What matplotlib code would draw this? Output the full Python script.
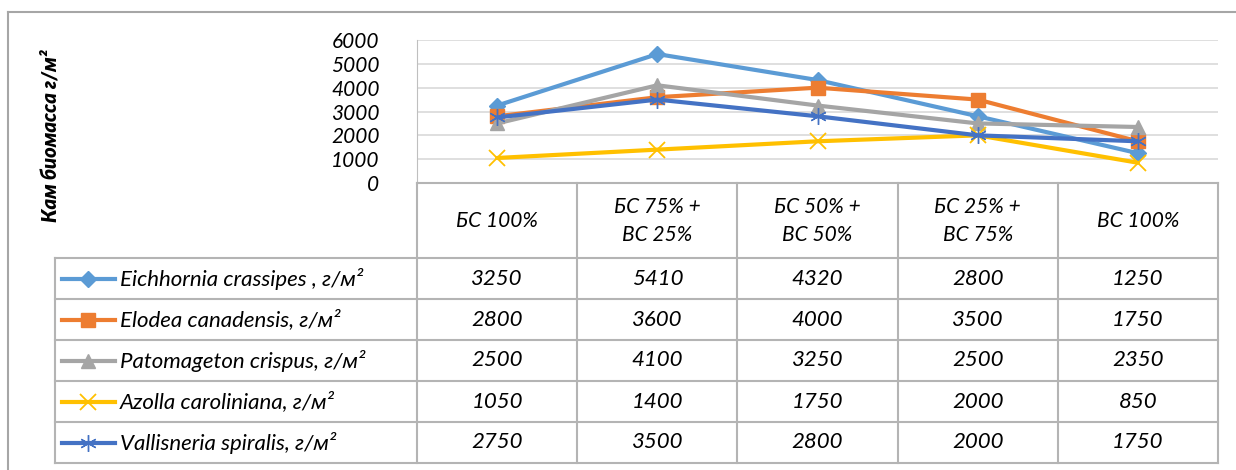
import matplotlib
matplotlib.use("Agg")
import matplotlib.pyplot as plt
from matplotlib.lines import Line2D

categories = ["БС 100%", "БС 75% +\nВС 25%", "БС 50% +\nВС 50%", "БС 25% +\nВС 75%", "ВС 100%"]
series_names = ["Eichhornia crassipes , г/м²", "Elodea canadensis, г/м²", "Patomageton crispus, г/м²",
                "Azolla caroliniana, г/м²", "Vallisneria spiralis, г/м²"]
eichhornia = [3250, 5410, 4320, 2800, 1250]
elodea = [2800, 3600, 4000, 3500, 1750]
patomageton = [2500, 4100, 3250, 2500, 2350]
azolla = [1050, 1400, 1750, 2000, 850]
vallisneria = [2750, 3500, 2800, 2000, 1750]
yticks = [0, 1000, 2000, 3000, 4000, 5000, 6000]
ylabel = "Кам биомасса г/м²"

series = [eichhornia, elodea, patomageton, azolla, vallisneria]
colors = ["#5B9BD5", "#ED7D31", "#A5A5A5", "#FFC000", "#4472C4"]
markers = ["D", "s", "^", "x", (6, 2, 0)]
msizes = [8, 10, 10, 11, 12]
mews = [1, 1, 1, 1.3, 1.0]

plt.rcParams['font.family'] = ['Lato', 'DejaVu Sans']
W, H = 1236, 470
fig = plt.figure(figsize=(W / 100, H / 100), dpi=100)

# outer chart border
fig.add_artist(Line2D([8 / W, 8 / W], [0, 1 - 12 / H], color="#A6A6A6", lw=1.5))
fig.add_artist(Line2D([8 / W, 1], [1 - 12 / H, 1 - 12 / H], color="#A6A6A6", lw=1.5))

# plot axes
x0, x1 = 417, 1218
ytop, ybot = 40, 183
ax = fig.add_axes([x0 / W, 1 - ybot / H, (x1 - x0) / W, (ybot - ytop) / H])
xs = list(range(len(categories)))
for vals, c, m, ms, mw in zip(series, colors, markers, msizes, mews):
    ax.plot(xs, vals, color=c, lw=3, marker=m, ms=ms, mec=c, mfc=c, mew=mw,
            solid_capstyle="round", zorder=3, clip_on=False)
ax.set_xlim(-0.5, 4.5)
ax.set_ylim(0, 6000)
ax.set_yticks(yticks)
ax.set_yticklabels([str(v) for v in yticks], fontsize=15, style="italic")
ax.tick_params(axis="y", length=0, pad=27)
ax.set_xticks([])
ax.grid(axis="y", color="#D9D9D9", lw=1.2)
for s in ["top", "right", "bottom"]:
    ax.spines[s].set_visible(False)
ax.spines["left"].set_color("#BFBFBF")
ax.set_axisbelow(True)
ax.set_ylabel(ylabel, fontsize=14.5, style="italic", fontweight="heavy")
ax.yaxis.set_label_coords(-(417 - 60) / (x1 - x0), 0.33)

# table axes
tb_top, tb_bot = 183, 463
tax = fig.add_axes([x0 / W, 1 - tb_bot / H, (x1 - x0) / W, (tb_bot - tb_top) / H])
tax.set_xlim(-0.5, 4.5)
tax.set_ylim(tb_bot - tb_top, 0)
tax.axis("off")
hdr = 75
rh = (tb_bot - tb_top - hdr) / len(series)
px2x = lambda p: (p - x0) / 160 - 0.5
xl = px2x(55)
lc = "#B4B4B4"
# grid lines
tax.plot([-0.5, 4.5], [0, 0], color=lc, lw=1.5, clip_on=False)
for k in range(len(series) + 1):
    y = hdr + k * rh
    tax.plot([xl, 4.5], [y, y], color=lc, lw=1.5, clip_on=False)
for i in range(len(categories) + 1):
    tax.plot([i - 0.5, i - 0.5], [0, tb_bot - tb_top], color=lc, lw=1.5, clip_on=False)
tax.plot([xl, xl], [hdr, tb_bot - tb_top], color=lc, lw=1.5, clip_on=False)

for i, cat in enumerate(categories):
    tax.text(i, hdr / 2, cat, ha="center", va="center", fontsize=15, style="italic", linespacing=1.5)
for r, (name, vals, c, m, ms, mw) in enumerate(zip(series_names, series, colors, markers, msizes, mews)):
    yc = hdr + (r + 0.5) * rh
    tax.plot([px2x(62), px2x(115)], [yc, yc], color=c, lw=3, clip_on=False)
    tax.plot([px2x(88.5)], [yc], marker=m, ms=ms, color=c, mec=c, mew=mw, clip_on=False)
    tax.text(px2x(120), yc, name, ha="left", va="center", fontsize=16, style="italic", clip_on=False)
    for i, v in enumerate(vals):
        tax.text(i, yc, str(v), ha="center", va="center", fontsize=16, style="italic")

fig.savefig("out.png", dpi=100)
